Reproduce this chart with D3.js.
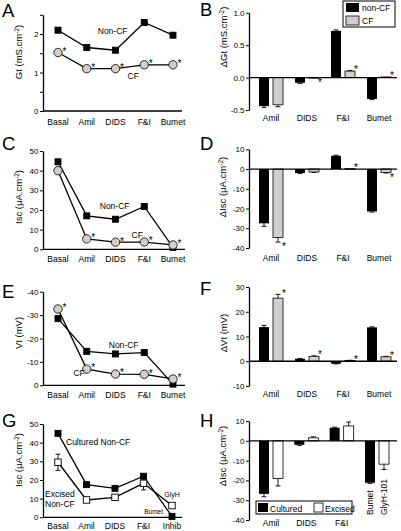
<!DOCTYPE html>
<html><head><meta charset="utf-8">
<script src="https://cdn.jsdelivr.net/npm/d3@7"></script>
<style>
body{margin:0;background:#fff}
svg{display:block}
text{font-family:"Liberation Sans",Arial,Helvetica,sans-serif;fill:#000}
</style>
</head><body><svg id="c" width="401" height="531"></svg>
<script>
// ---------- DATA ----------
const lineCats = ["Basal","Amil","DIDS","F&I","Bumet"];
const lineCatsG = ["Basal","Amil","DIDS","F&I","Inhib"];
const barCats = ["Amil","DIDS","F&I","Bumet"];
const barCatsH = ["Amil","DIDS","F&I","Bumet"];

// A: Gt (mS.cm-2)
const gtNonCF = [2.1, 1.65, 1.58, 2.3, 1.97];
const gtCF = [1.52, 1.1, 1.1, 1.2, 1.2];
const gtCFSig = [1, 1, 1, 1, 1];
const gtTicks = [0, 0.5, 1, 1.5, 2, 2.5];
const gtTickLabels = ["0", "", "1", "", "2", ""];

// B: delta Gt
const dGtNonCF = [-0.44, -0.08, 0.72, -0.33];
const dGtNonCFErr = [0.02, 0.01, 0.015, 0.01];
const dGtCF = [-0.42, -0.005, 0.1, 0.01];
const dGtCFErr = [0.03, 0, 0.01, 0];
const dGtCFSig = [0, 1, 1, 1];
const dGtTicks = [-0.5, 0, 0.5, 1];
const dGtTickLabels = ["-0.5", "0.0", "0.5", "1.0"];

// C: Isc
const iscNonCF = [44.5, 17, 15.3, 21.8, 1];
const iscCF = [40, 5.3, 3.6, 3.7, 2.2];
const iscCFSig = [0, 1, 1, 1, 1];
const iscTicks = [0, 10, 20, 30, 40, 50];

// D: delta Isc
const dIscNonCF = [-27.5, -2, 6.7, -21.5];
const dIscNonCFErr = [1.5, 0.3, 0.3, 0.3];
const dIscCF = [-34.7, -1.5, 0.2, -1.8];
const dIscCFErr = [2.3, 0.2, 0, 0.2];
const dIscCFSig = [1, 0, 1, 1];
const dIscTicks = [-40, -30, -20, -10, 0, 10];

// E: Vt (mV)
const vtNonCF = [-28.5, -14.5, -13.4, -14, -0.5];
const vtCF = [-32.6, -6.9, -4.8, -4.7, -2.7];
const vtCFSig = [1, 1, 1, 1, 1];
const vtTicks = [0, -10, -20, -30, -40];

// F: delta Vt
const dVtNonCF = [13.8, 1, -1, 13.7];
const dVtNonCFErr = [0.7, 0.1, 0.1, 0.2];
const dVtCF = [25.5, 2, 0.3, 1.8];
const dVtCFErr = [1.5, 0.2, 0.1, 0.2];
const dVtCFSig = [1, 1, 1, 1];
const dVtTicks = [-10, 0, 10, 20, 30];

// G: Isc cultured vs excised non-CF
const iscCultured = [45, 17.5, 15.5, 22, 0.5];
const iscCulturedErr = [1, 0.5, 0.5, 0.8, 0];
const iscExcised = [29.5, 9.3, 10.7, 18.2, 6.3];
const iscExcisedErr = [4.3, 0.8, 1, 3.5, 0.8];

// H: delta Isc cultured vs excised
const dIscCultured = [-26.8, -2, 6.6, -21.2];
const dIscCulturedErr = [1.5, 0.3, 0.3, 0.3];
const dIscExcised = [-19, 1.5, 7.5, -11.8];
const dIscExcisedErr = [3.8, 0.5, 2, 2.7];
const hTicks = [-40, -30, -20, -10, 0, 10];

// ---------- DRAWING ----------
const svg = d3.select("#c");
const FONT = '"Liberation Sans",Arial,Helvetica,sans-serif';
const FS_TICK = 8, FS_CAT = 8.5, FS_TITLE = 9.5, FS_LET = 18.5, FS_ANN = 8.5;
const AXW = 1.3;
const GREY = "#cfcfcf";

function letter(t, x, y){
  svg.append("text").attr("x", x).attr("y", y).attr("font-size", FS_LET).text(t);
}
function yAxis(y, ax, vals, labels){
  const a = d3.axisLeft(y).tickValues(vals).tickSize(3).tickSizeOuter(0).tickPadding(1.5)
    .tickFormat((d,i) => labels ? labels[i] : String(d));
  const g = svg.append("g").attr("transform", `translate(${ax},0)`).call(a);
  g.attr("font-family", FONT).attr("font-size", FS_TICK);
  g.selectAll("text").attr("fill", "#000");
  g.select(".domain").attr("stroke-width", AXW);
  g.selectAll(".tick line").attr("stroke-width", 1);
  return g;
}
function title(x, yc, pre, main){
  const t = svg.append("text").attr("transform", `translate(${x},${yc}) rotate(-90)`)
    .attr("text-anchor", "middle").attr("font-size", FS_TITLE);
  t.append("tspan").text(pre + main);
  return t;
}
function titleSup(x, yc, main, sup, post){
  const t = svg.append("text").attr("transform", `translate(${x},${yc}) rotate(-90)`)
    .attr("text-anchor", "middle").attr("font-size", FS_TITLE);
  t.append("tspan").text(main);
  t.append("tspan").attr("font-size", 6.5).attr("dy", -3.5).text(sup);
  t.append("tspan").attr("dy", 3.5).text(post);
}
function catLabels(x, cats, baseline){
  svg.append("g").selectAll("text").data(cats).join("text")
    .attr("x", d => x(d)).attr("y", baseline).attr("text-anchor", "middle")
    .attr("font-size", FS_CAT).text(d => d);
}
function star(x, yc){
  svg.append("text").attr("x", x).attr("y", yc + 5.8).attr("text-anchor", "middle")
    .attr("font-size", 10).attr("fill", "#000").style("fill", "#000").text("*");
}
function hline(x1, x2, y){
  svg.append("line").attr("x1", x1).attr("x2", x2).attr("y1", y).attr("y2", y)
    .attr("stroke", "#000").attr("stroke-width", AXW);
}
function seriesLine(x, y, cats, vals){
  svg.append("path").datum(vals)
    .attr("d", d3.line().x((d,i) => x(cats[i])).y(d => y(d)))
    .attr("fill", "none").attr("stroke", "#000").attr("stroke-width", 1.3);
}
function squares(x, y, cats, vals, fill, s){
  svg.append("g").selectAll("rect").data(vals).join("rect")
    .attr("x", (d,i) => x(cats[i]) - s/2).attr("y", d => y(d) - s/2)
    .attr("width", s).attr("height", s)
    .attr("fill", fill).attr("stroke", "#000").attr("stroke-width", 0.9);
}
function circles(x, y, cats, vals){
  svg.append("g").selectAll("circle").data(vals).join("circle")
    .attr("cx", (d,i) => x(cats[i])).attr("cy", d => y(d)).attr("r", 4.2)
    .attr("fill", GREY).attr("stroke", "#000").attr("stroke-width", 0.8);
}
function errV(x, y, v, e, cap){
  if (!e) return;
  const g = svg.append("g").attr("stroke", "#000").attr("stroke-width", 0.9);
  g.append("line").attr("x1", x).attr("x2", x).attr("y1", y(v - e)).attr("y2", y(v + e));
  g.append("line").attr("x1", x - cap).attr("x2", x + cap).attr("y1", y(v - e)).attr("y2", y(v - e));
  g.append("line").attr("x1", x - cap).attr("x2", x + cap).attr("y1", y(v + e)).attr("y2", y(v + e));
}
function bars(x, y, cats, vals, errs, off, fill, stroke){
  const bw = 10;
  vals.forEach((v, i) => {
    const cx = x(cats[i]) + off;
    const y0 = y(0), y1 = y(v);
    const e = errs[i] || 0;
    const ye = y(v >= 0 ? v + e : v - e);
    if (e) {
      svg.append("line").attr("x1", cx + bw/2).attr("x2", cx + bw/2).attr("y1", y1).attr("y2", ye)
        .attr("stroke", "#000").attr("stroke-width", 0.9);
      svg.append("line").attr("x1", cx + bw/2 - 2.5).attr("x2", cx + bw/2 + 2.5).attr("y1", ye).attr("y2", ye)
        .attr("stroke", "#000").attr("stroke-width", 0.9);
    }
    svg.append("rect").attr("x", cx).attr("width", bw)
      .attr("y", Math.min(y0, y1)).attr("height", Math.max(0.6, Math.abs(y1 - y0)))
      .attr("fill", fill).attr("stroke", stroke ? "#000" : "none").attr("stroke-width", 0.8);
  });
}
function barStars(x, y, cats, vals, errs, sig, off){
  vals.forEach((v, i) => {
    if (!sig[i]) return;
    const e = errs[i] || 0;
    const ye = y(v >= 0 ? v + e : v - e);
    star(x(cats[i]) + off + 11, v >= 0 ? ye - 3.5 : ye + 2.5);
  });
}
function lineStars(x, y, cats, vals, sig){
  vals.forEach((v, i) => { if (sig[i]) star(x(cats[i]) + 6.5, y(v) - 3.5); });
}

// ===== Panel A =====
{
  const ax = 43;
  const x = d3.scalePoint().domain(lineCats).range([ax + 15, ax + 130]);
  const y = d3.scaleLinear().domain([0, 2.5]).range([111, 14.8]);
  letter("A", 2, 17);
  yAxis(y, ax, gtTicks, gtTickLabels);
  hline(ax, ax + 139, y(0));
  seriesLine(x, y, lineCats, gtNonCF);
  seriesLine(x, y, lineCats, gtCF);
  squares(x, y, lineCats, gtNonCF, "#000", 6);
  circles(x, y, lineCats, gtCF);
  lineStars(x, y, lineCats, gtCF, gtCFSig);
  catLabels(x, lineCats, y(0) + 14);
  titleSup(22, 52, "Gt (mS.cm", "-2", ")");
  svg.append("text").attr("x", x("Amil") + 11).attr("y", y(2.0)).attr("font-size", FS_ANN).text("Non-CF");
  svg.append("text").attr("x", x("DIDS") + 12).attr("y", y(0.83)).attr("font-size", FS_ANN).text("CF");
}

// ===== Panel B =====
{
  const ax = 249;
  const x = d3.scalePoint().domain(barCats).range([ax + 22, ax + 130]);
  const y = d3.scaleLinear().domain([-0.5, 1]).range([110, 12.7]);
  letter("B", 200, 16);
  yAxis(y, ax, dGtTicks, dGtTickLabels);
  bars(x, y, barCats, dGtNonCF, dGtNonCFErr, -12, "#000", false);
  bars(x, y, barCats, dGtCF, dGtCFErr, 2, GREY, true);
  hline(ax, 397, y(0));
  barStars(x, y, barCats, dGtCF, dGtCFErr, dGtCFSig, 2);
  catLabels(x, barCats, 121);
  titleSup(227, 37, "\u0394Gt (mS.cm", "-2", ")");
  // legend
  const lg = svg.append("g");
  lg.append("rect").attr("x", 343).attr("y", 1).attr("width", 52).attr("height", 26)
    .attr("fill", "#fff").attr("stroke", "#000").attr("stroke-width", 1);
  lg.append("rect").attr("x", 346).attr("y", 3).attr("width", 13).attr("height", 9).attr("fill", "#000");
  lg.append("rect").attr("x", 346).attr("y", 16).attr("width", 13).attr("height", 9)
    .attr("fill", GREY).attr("stroke", "#000").attr("stroke-width", 0.8);
  lg.append("text").attr("x", 362).attr("y", 11).attr("font-size", FS_ANN).text("non-CF");
  lg.append("text").attr("x", 362).attr("y", 24).attr("font-size", FS_ANN).text("CF");
}

// ===== Panel C =====
{
  const ax = 43;
  const x = d3.scalePoint().domain(lineCats).range([ax + 15, ax + 130]);
  const y = d3.scaleLinear().domain([0, 50]).range([249.3, 151]);
  letter("C", 2, 150);
  yAxis(y, ax, iscTicks);
  hline(ax, ax + 142, y(0));
  seriesLine(x, y, lineCats, iscNonCF);
  seriesLine(x, y, lineCats, iscCF);
  squares(x, y, lineCats, iscNonCF, "#000", 6);
  circles(x, y, lineCats, iscCF);
  lineStars(x, y, lineCats, iscCF, iscCFSig);
  catLabels(x, lineCats, y(0) + 12.5);
  titleSup(22, 197, "Isc (\u03BCA.cm", "-2", ")");
  svg.append("text").attr("x", x("Amil") + 13).attr("y", y(20.5)).attr("font-size", FS_ANN).text("Non-CF");
  svg.append("text").attr("x", x("DIDS") + 16).attr("y", y(5.7)).attr("font-size", FS_ANN).text("CF");
}

// ===== Panel D =====
{
  const ax = 249;
  const x = d3.scalePoint().domain(barCats).range([ax + 22, ax + 130]);
  const y = d3.scaleLinear().domain([-40, 10]).range([248, 149.3]);
  letter("D", 200, 150);
  yAxis(y, ax, dIscTicks);
  bars(x, y, barCats, dIscNonCF, dIscNonCFErr, -12, "#000", false);
  bars(x, y, barCats, dIscCF, dIscCFErr, 2, GREY, true);
  hline(ax, 397, y(0));
  barStars(x, y, barCats, dIscCF, dIscCFErr, dIscCFSig, 2);
  catLabels(x, barCats, 261);
  titleSup(226, 187, "\u0394Isc (\u03BCA.cm", "-2", ")");
}

// ===== Panel E =====
{
  const ax = 43;
  const x = d3.scalePoint().domain(lineCats).range([ax + 15, ax + 130]);
  const y = d3.scaleLinear().domain([0, -40]).range([385.3, 291.7]);
  letter("E", 2, 298);
  yAxis(y, ax, vtTicks);
  hline(ax, ax + 142, y(0));
  seriesLine(x, y, lineCats, vtNonCF);
  seriesLine(x, y, lineCats, vtCF);
  squares(x, y, lineCats, vtNonCF, "#000", 6);
  circles(x, y, lineCats, vtCF);
  lineStars(x, y, lineCats, vtCF, vtCFSig);
  catLabels(x, lineCats, y(0) + 12.5);
  title(22, 333, "", "Vt (mV)");
  svg.append("text").attr("x", x("Amil") + 22).attr("y", y(-16)).attr("font-size", FS_ANN).text("Non-CF");
  svg.append("text").attr("x", x("Amil") - 2).attr("y", y(-4)).attr("text-anchor", "end").attr("font-size", FS_ANN).text("CF");
}

// ===== Panel F =====
{
  const ax = 249;
  const x = d3.scalePoint().domain(barCats).range([ax + 22, ax + 130]);
  const y = d3.scaleLinear().domain([-10, 30]).range([386, 287]);
  letter("F", 200, 295);
  yAxis(y, ax, dVtTicks);
  bars(x, y, barCats, dVtNonCF, dVtNonCFErr, -12, "#000", false);
  bars(x, y, barCats, dVtCF, dVtCFErr, 2, GREY, true);
  hline(ax, 397, y(0));
  barStars(x, y, barCats, dVtCF, dVtCFErr, dVtCFSig, 2);
  catLabels(x, barCats, 397);
  title(227, 333, "\u0394", "Vt (mV)");
}

// ===== Panel G =====
{
  const ax = 43;
  const x = d3.scalePoint().domain(lineCatsG).range([ax + 15, ax + 129]);
  const y = d3.scaleLinear().domain([0, 50]).range([517.3, 424]);
  letter("G", 2, 427);
  yAxis(y, ax, iscTicks);
  hline(ax, ax + 139, y(0));
  seriesLine(x, y, lineCatsG, iscCultured);
  seriesLine(x, y, lineCatsG, iscExcised);
  iscExcised.forEach((v, i) => errV(x(lineCatsG[i]), y, v, iscExcisedErr[i], 2.5));
  squares(x, y, lineCatsG, iscCultured, "#000", 6);
  squares(x, y, lineCatsG, iscExcised, "#fff", 6.5);
  catLabels(x, lineCatsG, 529);
  titleSup(22, 460, "Isc (\u03BCA.cm", "-2", ")");
  svg.append("text").attr("x", x("Basal") + 8).attr("y", y(38.7)).attr("font-size", FS_ANN).text("Cultured Non-CF");
  svg.append("text").attr("x", ax + 2).attr("y", y(10.9)).attr("font-size", FS_ANN).text("Excised");
  svg.append("text").attr("x", ax + 2).attr("y", y(5.5)).attr("font-size", FS_ANN).text("Non-CF");
  svg.append("text").attr("x", x("Inhib")).attr("y", y(10.9)).attr("text-anchor", "middle").attr("font-size", 7).text("GlyH");
  svg.append("text").attr("x", x("Inhib") - 9).attr("y", y(1.8)).attr("text-anchor", "end").attr("font-size", 6.5).text("Bumet");
}

// ===== Panel H =====
{
  const ax = 249;
  const x = d3.scalePoint().domain(barCatsH).range([ax + 22, ax + 128]);
  const y = d3.scaleLinear().domain([-40, 10]).range([520, 421]);
  letter("H", 200, 427);
  yAxis(y, ax, hTicks);
  bars(x, y, barCatsH, dIscCultured, dIscCulturedErr, -12, "#000", false);
  bars(x, y, barCatsH, dIscExcised, dIscExcisedErr, 2, "#fff", true);
  hline(ax, 397, y(0));
  const hx = barCatsH.slice(0, 3);
  catLabels(x, hx, 526);
  svg.append("text").attr("transform", `translate(${x("Bumet") - 4},515) rotate(-90)`)
    .attr("font-size", FS_CAT).text("Bumet");
  svg.append("text").attr("transform", `translate(${x("Bumet") + 10},515) rotate(-90)`)
    .attr("font-size", FS_CAT).text("GlyH-101");
  titleSup(226, 456, "\u0394Isc (\u03BCA.cm", "-2", ")");
  const lg = svg.append("g");
  lg.append("rect").attr("x", 256).attr("y", 501).attr("width", 96).attr("height", 13)
    .attr("fill", "#fff").attr("stroke", "#000").attr("stroke-width", 1);
  lg.append("rect").attr("x", 258).attr("y", 503).attr("width", 10).attr("height", 9).attr("fill", "#000");
  lg.append("text").attr("x", 270).attr("y", 511.5).attr("font-size", FS_ANN).text("Cultured");
  lg.append("rect").attr("x", 314).attr("y", 503).attr("width", 9).attr("height", 9)
    .attr("fill", "#fff").attr("stroke", "#000").attr("stroke-width", 0.8);
  lg.append("text").attr("x", 325).attr("y", 511.5).attr("font-size", FS_ANN).text("Excised");
}
</script>
</body></html>
